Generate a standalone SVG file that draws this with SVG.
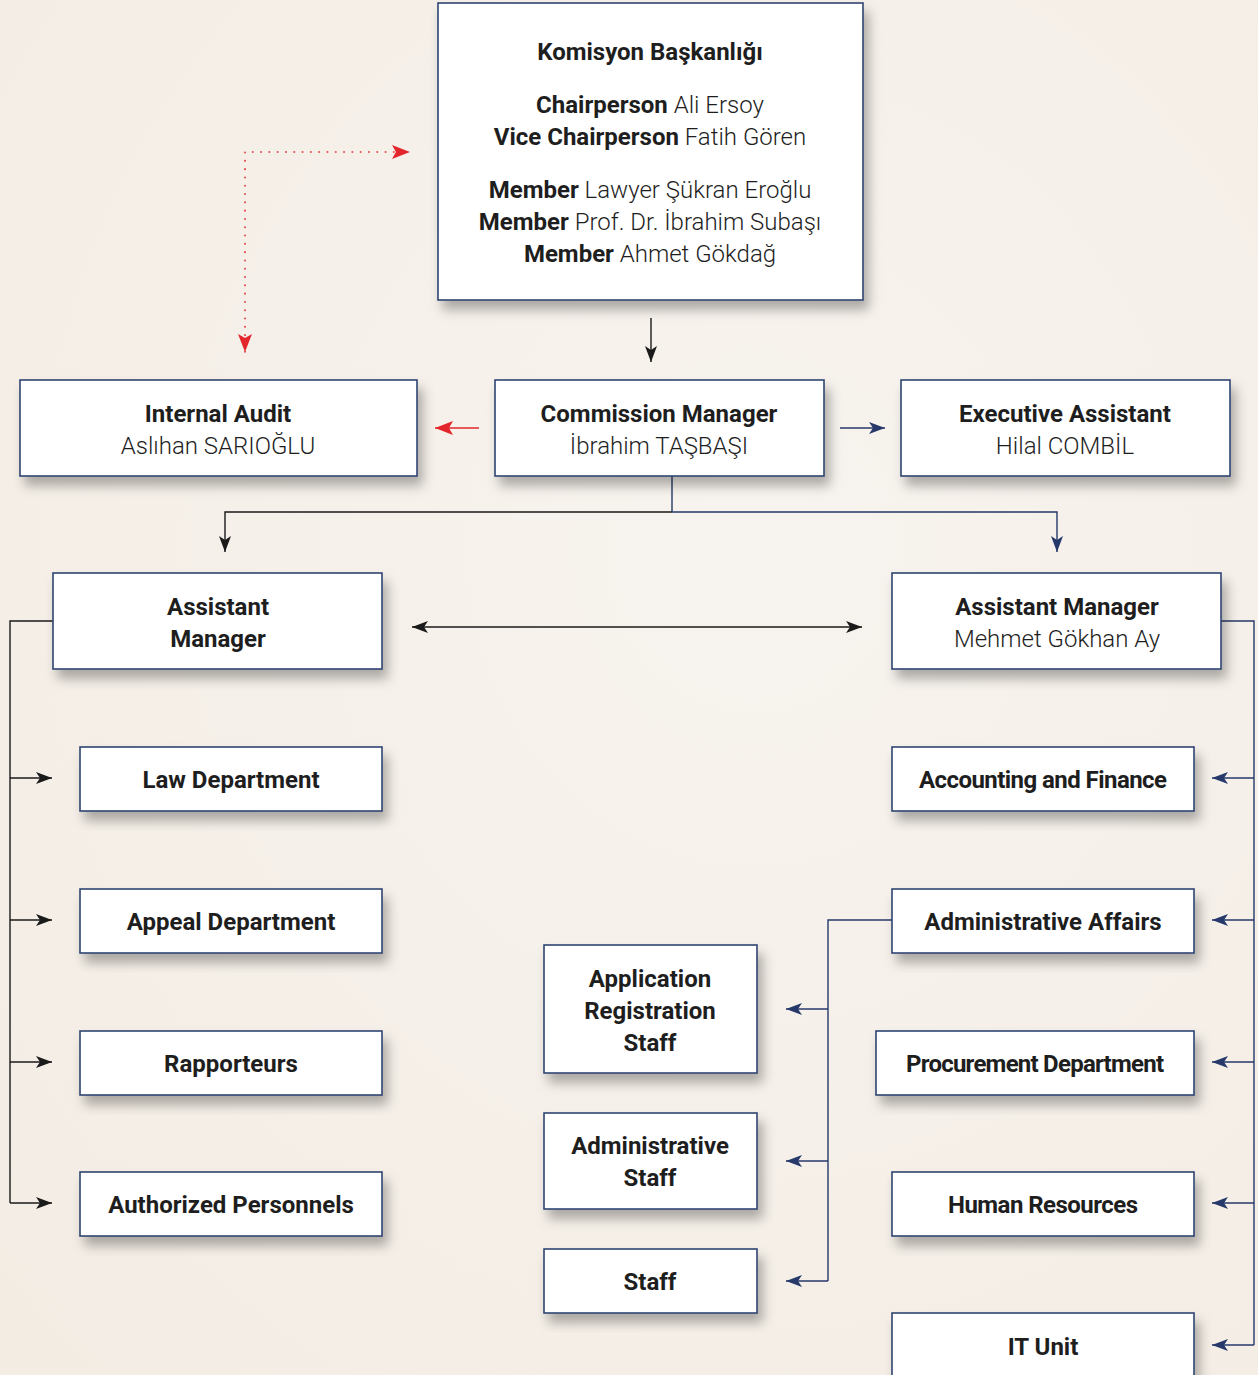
<svg xmlns="http://www.w3.org/2000/svg" width="1258" height="1375" viewBox="0 0 1258 1375">
<defs>
<style>
.box{fill:#fff;stroke:#2f4472;stroke-width:1.6;filter:url(#sh)}
text{font-family:Roboto,"Liberation Sans",sans-serif;font-size:24px;fill:#1e1e1e;text-anchor:middle}
.b{font-weight:bold}
.l{font-weight:300}
.k{fill:none;stroke:#1a1a1a;stroke-width:1.4}
.n{fill:none;stroke:#26396a;stroke-width:1.4}
.r{fill:none;stroke:#e3262b;stroke-width:1.6}
</style>
<filter id="sh" x="-10%" y="-10%" width="125%" height="140%">
<feDropShadow dx="5" dy="9" stdDeviation="6" flood-color="#000" flood-opacity="0.3"/>
</filter>
<marker id="ak" markerUnits="userSpaceOnUse" markerWidth="18" markerHeight="14" refX="16" refY="7" orient="auto-start-reverse"><path d="M0,1 L16,7 L0,13 L4,7 Z" fill="#1a1a1a"/></marker>
<marker id="an" markerUnits="userSpaceOnUse" markerWidth="18" markerHeight="14" refX="16" refY="7" orient="auto-start-reverse"><path d="M0,1 L16,7 L0,13 L4,7 Z" fill="#26396a"/></marker>
<marker id="ar" markerUnits="userSpaceOnUse" markerWidth="20" markerHeight="16" refX="18" refY="8" orient="auto-start-reverse"><path d="M0,1 L18,8 L0,15 L4,8 Z" fill="#e3262b"/></marker>
<radialGradient id="bg" cx="0.6" cy="0.4" r="0.9">
<stop offset="0" stop-color="#f7f3ee"/>
<stop offset="1" stop-color="#f3ece3"/>
</radialGradient>
</defs>
<rect width="1258" height="1375" fill="url(#bg)"/>

<g id="connectors">
<path class="r" d="M245,352 V152 H410" stroke-dasharray="0.5 7.8" stroke-linecap="round" stroke-width="3.8" marker-start="url(#ar)" marker-end="url(#ar)"/>
<path class="k" d="M651,318 V362" marker-end="url(#ak)"/>
<path class="r" d="M479,428 H435" marker-end="url(#ar)"/>
<path class="n" d="M840,428 H885" marker-end="url(#an)"/>
<path class="n" d="M672,476 V512"/>
<path class="k" d="M672,512 H225 V552" marker-end="url(#ak)"/>
<path class="n" d="M672,512 H1057 V552" marker-end="url(#an)"/>
<path class="k" d="M412,627 H862" marker-start="url(#ak)" marker-end="url(#ak)"/>
<path class="k" d="M53,621 H10 V1203"/>
<path class="k" d="M10,778 H52" marker-end="url(#ak)"/>
<path class="k" d="M10,920 H52" marker-end="url(#ak)"/>
<path class="k" d="M10,1062 H52" marker-end="url(#ak)"/>
<path class="k" d="M10,1203 H52" marker-end="url(#ak)"/>
<path class="n" d="M1221,621 H1254 V1345"/>
<path class="n" d="M1254,778 H1212" marker-end="url(#an)"/>
<path class="n" d="M1254,920 H1212" marker-end="url(#an)"/>
<path class="n" d="M1254,1062 H1212" marker-end="url(#an)"/>
<path class="n" d="M1254,1203 H1212" marker-end="url(#an)"/>
<path class="n" d="M1254,1345 H1212" marker-end="url(#an)"/>
<path class="n" d="M892,920 H828 V1281"/>
<path class="n" d="M828,1009 H786" marker-end="url(#an)"/>
<path class="n" d="M828,1161 H786" marker-end="url(#an)"/>
<path class="n" d="M828,1281 H786" marker-end="url(#an)"/>
</g>

<g id="komisyon">
<rect class="box" x="438" y="3" width="425" height="297"/>
<text x="650" y="60" class="b" font-size="23">Komisyon Başkanlığı</text>
<text x="650" y="113"><tspan class="b">Chairperson</tspan><tspan class="l"> Ali Ersoy</tspan></text>
<text x="650" y="145"><tspan class="b">Vice Chairperson</tspan><tspan class="l"> Fatih Gören</tspan></text>
<text x="650" y="198"><tspan class="b">Member</tspan><tspan class="l"> Lawyer Şükran Eroğlu</tspan></text>
<text x="650" y="230"><tspan class="b">Member</tspan><tspan class="l"> Prof. Dr. İbrahim Subaşı</tspan></text>
<text x="650" y="262"><tspan class="b">Member</tspan><tspan class="l"> Ahmet Gökdağ</tspan></text>
</g>

<g id="internal-audit">
<rect class="box" x="20" y="380" width="397" height="96"/>
<text x="218" y="422" class="b">Internal Audit</text>
<text x="218" y="454" class="l">Aslıhan SARIOĞLU</text>
</g>
<g id="commission-manager">
<rect class="box" x="495" y="380" width="329" height="96"/>
<text x="659" y="422" class="b">Commission Manager</text>
<text x="659" y="454" class="l">İbrahim TAŞBAŞI</text>
</g>
<g id="executive-assistant">
<rect class="box" x="901" y="380" width="329" height="96"/>
<text x="1065" y="422" class="b">Executive Assistant</text>
<text x="1065" y="454" class="l">Hilal COMBİL</text>
</g>

<g id="assistant-manager-left">
<rect class="box" x="53" y="573" width="329" height="96"/>
<text x="218" y="615" class="b">Assistant</text>
<text x="218" y="647" class="b">Manager</text>
</g>
<g id="assistant-manager-right">
<rect class="box" x="892" y="573" width="329" height="96"/>
<text x="1057" y="615" class="b">Assistant Manager</text>
<text x="1057" y="647" class="l">Mehmet Gökhan Ay</text>
</g>

<g id="law">
<rect class="box" x="80" y="747" width="302" height="64"/>
<text x="231" y="788" class="b">Law Department</text>
</g>
<g id="appeal">
<rect class="box" x="80" y="889" width="302" height="64"/>
<text x="231" y="930" class="b">Appeal Department</text>
</g>
<g id="rapporteurs">
<rect class="box" x="80" y="1031" width="302" height="64"/>
<text x="231" y="1072" class="b">Rapporteurs</text>
</g>
<g id="authorized">
<rect class="box" x="80" y="1172" width="302" height="64"/>
<text x="231" y="1213" class="b">Authorized Personnels</text>
</g>

<g id="accounting">
<rect class="box" x="892" y="747" width="302" height="64"/>
<text x="1043" y="788" class="b" textLength="248" lengthAdjust="spacing">Accounting and Finance</text>
</g>
<g id="admin-affairs">
<rect class="box" x="892" y="889" width="302" height="64"/>
<text x="1043" y="930" class="b">Administrative Affairs</text>
</g>
<g id="procurement">
<rect class="box" x="876" y="1031" width="318" height="64"/>
<text x="1035" y="1072" class="b" textLength="258" lengthAdjust="spacing">Procurement Department</text>
</g>
<g id="hr">
<rect class="box" x="892" y="1172" width="302" height="64"/>
<text x="1043" y="1213" class="b" textLength="190" lengthAdjust="spacing">Human Resources</text>
</g>
<g id="it">
<rect class="box" x="892" y="1313" width="302" height="80"/>
<text x="1043" y="1355" class="b">IT Unit</text>
</g>

<g id="app-reg">
<rect class="box" x="544" y="945" width="213" height="128"/>
<text x="650" y="987" class="b">Application</text>
<text x="650" y="1019" class="b">Registration</text>
<text x="650" y="1051" class="b">Staff</text>
</g>
<g id="admin-staff">
<rect class="box" x="544" y="1113" width="213" height="96"/>
<text x="650" y="1154" class="b">Administrative</text>
<text x="650" y="1186" class="b">Staff</text>
</g>
<g id="staff">
<rect class="box" x="544" y="1249" width="213" height="64"/>
<text x="650" y="1290" class="b">Staff</text>
</g>
</svg>
